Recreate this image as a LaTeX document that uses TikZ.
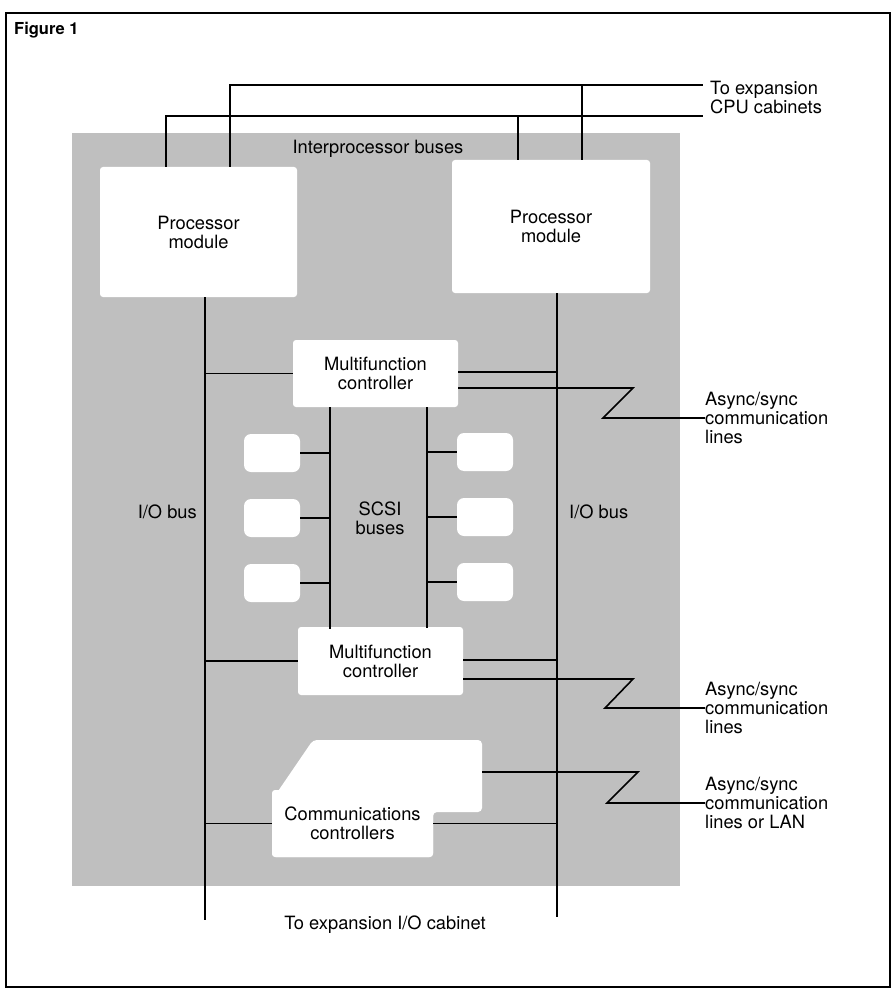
\documentclass[tikz,border=0pt]{standalone}
\usepackage{fontspec}
\setmainfont{TeX Gyre Heros}
\newcommand\mylbl{\fontsize{18.3}{19}\selectfont}
\begin{document}
\begin{tikzpicture}[x=1pt,y=-1pt,
  bus/.style={line width=1.6pt},
  lbl/.style={font=\mylbl, align=center, inner sep=0pt},
  wbox/.style={fill=white, inner sep=0pt, rounded corners=3pt, font=\mylbl, align=center},
  blob/.style={fill=white, inner sep=0pt, rounded corners=7pt, minimum width=56pt, minimum height=38pt},
  shadefill/.style={fill=black!25}]
\useasboundingbox (0,0) rectangle (893,992);
% frame
\draw[line width=1.3pt] (6,13) rectangle (890,987);
\node[anchor=west, inner sep=0pt, font=\bfseries\fontsize{16.5}{18}\selectfont] (fig) at (14,30) {Figure 1};
% shaded area
\fill[shadefill] (72,133) rectangle (680,886);
% white boxes
\node[wbox, minimum width=197pt, minimum height=130pt] (pm1) at (198.5,232) {Processor\\module};
\node[wbox, minimum width=198pt, minimum height=133pt] (pm2) at (551,226.5) {Processor\\module};
\node[wbox, minimum width=165pt, minimum height=67pt] (mfc1) at (375.5,373.5) {Multifunction\\controller};
\node[wbox, minimum width=165pt, minimum height=68pt] (mfc2) at (380.5,661) {Multifunction\\controller};
\fill[white, rounded corners=4pt] (313,740) -- (482,740) -- (482,812) -- (433,812) -- (433,857) -- (272,857) -- (272,800) -- cycle;
\node[wbox, minimum width=161pt, minimum height=67pt] (cc) at (352.5,823.5) {Communications\\controllers};
% disk blobs
\node[blob] (d1) at (272,453) {};
\node[blob] (d2) at (272,518) {};
\node[blob] (d3) at (272,583) {};
\node[blob] (d4) at (485,452) {};
\node[blob] (d5) at (485,517) {};
\node[blob] (d6) at (485,582) {};
% labels
\node[lbl] (ipb) at (378,149) {Interprocessor buses};
\node[lbl, anchor=west, align=left] (cpu) at (710,97) {To expansion\\CPU cabinets};
\node[lbl, anchor=east] (iol) at (197,512) {I/O bus};
\node[lbl, anchor=west] (ior) at (569,512) {I/O bus};
\node[lbl] (scsi) at (380,518) {SCSI\\buses};
\node[lbl, anchor=west, align=left] (a1) at (705,418) {Async/sync\\communication\\lines};
\node[lbl, anchor=west, align=left] (a2) at (705,708) {Async/sync\\communication\\lines};
\node[lbl, anchor=west, align=left] (a3) at (705,803) {Async/sync\\communication\\lines or LAN};
\node[lbl] (ioc) at (385,925) {To expansion I/O cabinet};
% interprocessor buses
\coordinate (xa) at (703,85);
\coordinate (xb) at (703,116);
\draw[bus] (pm1.north -| 230,0) -- (230,85) -- (xa);
\draw[bus] (pm1.north -| 166,0) -- (166,116) -- (xb);
\draw[bus] (pm2.north -| 518,0) -- (518,116);
\draw[bus] (pm2.north -| 582,0) -- (582,85);
% I/O buses
\coordinate (lbt) at (205,297);
\coordinate (lbb) at (205,920);
\coordinate (rbt) at (557,293);
\coordinate (rbb) at (557,917);
\draw[bus] (lbt) -- (lbb);
\draw[bus] (rbt) -- (rbb);
% MFC1 connections
\draw[bus] (mfc1.west) -- (mfc1.west -| lbt);
\coordinate (m1a) at (458,372);
\coordinate (m1b) at (458,388);
\draw[bus] (m1a) -- (m1a -| rbt);
\draw[bus] (m1b) -- (633,388) -- (603,418) -- (a1.west);
% MFC2 connections
\draw[bus] (mfc2.west) -- (mfc2.west -| lbt);
\coordinate (m2a) at (463,660);
\coordinate (m2b) at (463,679);
\draw[bus] (m2a) -- (m2a -| rbt);
\draw[bus] (m2b) -- (633,679) -- (605,708) -- (a2.west);
% communications controllers connections
\draw[bus] (cc.west) -- (cc.west -| lbt);
\draw[bus] (cc.east) -- (cc.east -| rbt);
\coordinate (cct) at (482,772);
\draw[bus] (cct) -- (638,772) -- (607,803) -- (a3.west);
% SCSI buses
\coordinate (s1t) at (330,407);
\coordinate (s1b) at (330,629);
\coordinate (s2t) at (427,407);
\coordinate (s2b) at (427,628);
\draw[bus] (s1t) -- (s1b);
\draw[bus] (s2t) -- (s2b);
\foreach \d in {d1,d2,d3} \draw[bus] (\d.east) -- (\d.east -| s1t);
\foreach \d in {d4,d5,d6} \draw[bus] (\d.west) -- (\d.west -| s2t);
\end{tikzpicture}
\end{document}
